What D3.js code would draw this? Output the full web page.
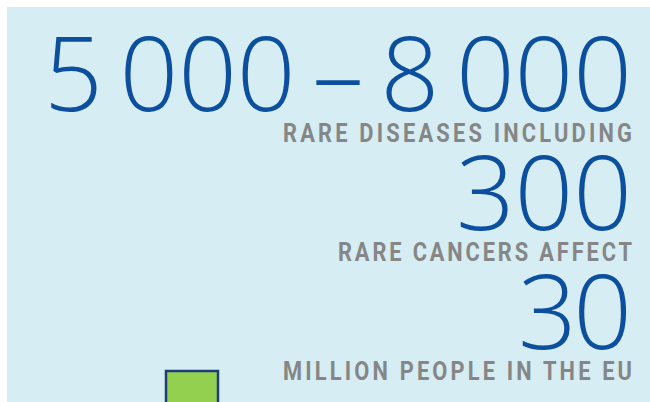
<!DOCTYPE html>
<html><head><meta charset="utf-8">
<script src="https://cdn.jsdelivr.net/npm/d3@7"></script>
<style>html,body{margin:0;padding:0;background:#fff;}svg{display:block;}</style>
</head><body>
<svg id="c" width="650" height="402"></svg>
<script>
const figures = ["5\u2009000\u2009\u2013\u20098\u2009000", "300", "30"];
const captions = ["RARE DISEASES INCLUDING", "RARE CANCERS AFFECT", "MILLION PEOPLE IN THE EU"];
const rows = [0, 1, 2];

const svg = d3.select("#c");
const W = 650, H = 402;
svg.append("rect").attr("x", 7).attr("y", 7).attr("width", W - 7).attr("height", H - 7).attr("fill", "#d5edf3");

const y = d3.scalePoint().domain(rows).range([111, 349]);
const right = 632;

const figW = [588, 176, 114];
const capW = [349, 294, 349];
const figSx = 1.0, capSx = 0.84;

rows.forEach(i => {
  svg.append("g").attr("transform", `translate(${right},${y(i)}) scale(${figSx},1)`)
    .append("text")
    .attr("x", 0).attr("y", 0)
    .attr("text-anchor", "end")
    .attr("font-family", "'Open Sans', 'DejaVu Sans', sans-serif")
    .attr("font-weight", 300)
    .attr("font-size", 103)
    .attr("fill", "#0b4f9e")
    .attr("textLength", figW[i] / figSx)
    .attr("lengthAdjust", "spacing")
    .text(figures[i]);
  svg.append("g").attr("transform", `translate(${right},${y(i) + 31}) scale(${capSx},1)`)
    .append("text")
    .attr("x", 0).attr("y", 0)
    .attr("text-anchor", "end")
    .attr("font-family", "Roboto, 'Liberation Sans', sans-serif")
    .attr("font-weight", 700)
    .attr("font-size", 26)
    .attr("fill", "#868686")
    .attr("textLength", capW[i] / capSx)
    .attr("lengthAdjust", "spacing")
    .text(captions[i]);
});

svg.append("rect").attr("x", 166).attr("y", 371).attr("width", 52).attr("height", 40)
  .attr("fill", "#93d04f").attr("stroke", "#1d3c78").attr("stroke-width", 2.5);
</script>
</body></html>
